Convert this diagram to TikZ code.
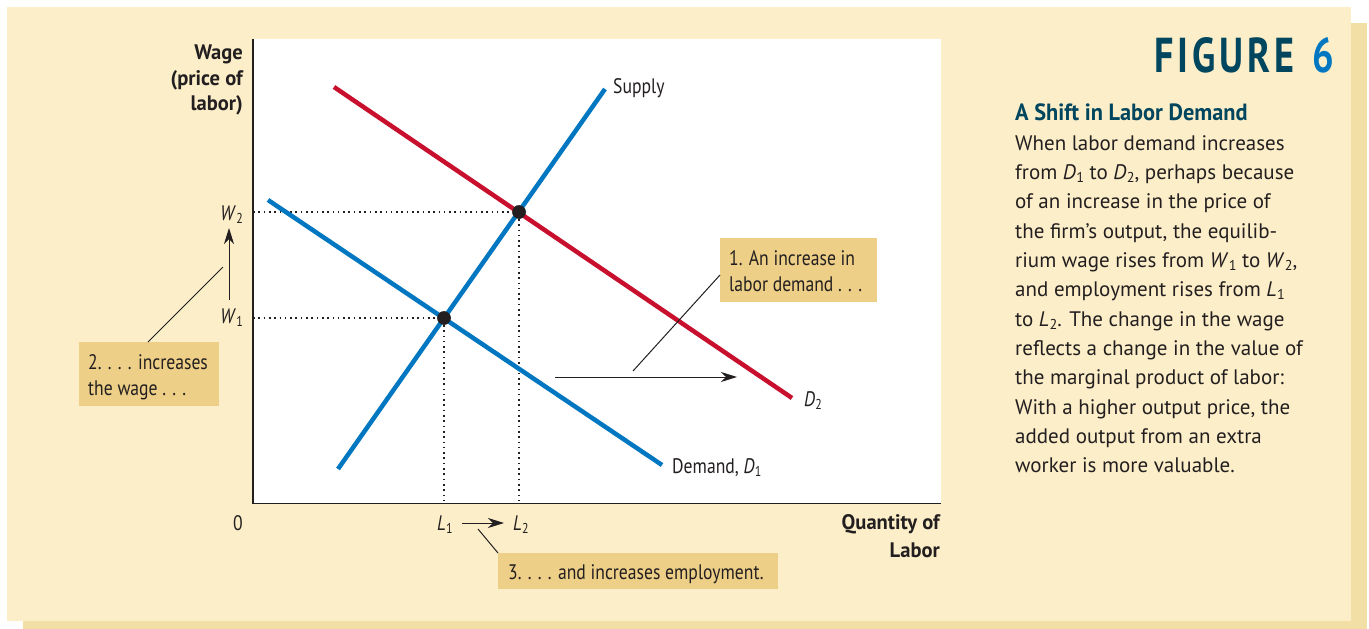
\documentclass[tikz,border=0pt]{standalone}
\usepackage{fontspec}
\setmainfont{PT Sans}
\newfontfamily\condf[FakeStretch=0.84]{PT Sans}
\newfontfamily\condbf[FakeStretch=0.98,BoldFont={* Bold}]{PT Sans}
\newfontfamily\headf[FakeStretch=0.95,BoldFont={* Bold}]{PT Sans}
\newfontfamily\figf[FakeStretch=0.78,LetterSpace=8]{PT Sans}
\usetikzlibrary{arrows.meta}
\definecolor{panel}{HTML}{FCEEC8}
\definecolor{shadow}{HTML}{F2DFA6}
\definecolor{boxc}{HTML}{EDCF87}
\definecolor{bluec}{HTML}{0077C0}
\definecolor{redc}{HTML}{C8102E}
\definecolor{ink}{HTML}{231F20}
\definecolor{teal}{HTML}{00465F}
\newcommand\vsub[2]{\textit{#1}\kern0.3pt\raisebox{-0.3ex}{\scalebox{0.68}{#2}}}
\tikzset{
  lbl/.style={inner sep=0pt, text=ink, font=\condf\fontsize{21}{26}\selectfont},
  axl/.style={inner sep=0pt, text=ink, font=\condbf\bfseries\fontsize{21}{26}\selectfont},
  body/.style={inner sep=0pt, anchor=base west, text=ink, font=\fontsize{21}{29}\selectfont},
  callout/.style={fill=boxc, draw=none},
  curveb/.style={bluec, line width=4.5pt},
  curver/.style={redc, line width=4.5pt},
  guide/.style={ink, line width=1.6pt, dash pattern=on 1.6pt off 3.7pt},
  thin/.style={ink, line width=1pt},
  arr/.style={ink, line width=1pt, -{Stealth[length=16pt 0,width=10pt 0,inset=5pt]}},
  dot/.style={circle, fill=ink, inner sep=0pt, minimum size=13.5pt}
}
\begin{document}
\begin{tikzpicture}[x=1pt,y=-1pt]
\useasboundingbox (0,0) rectangle (1369,629);
\fill[white] (0,0) rectangle (1369,629);
\fill[shadow] (23,23) rectangle (1367,629);
\fill[panel] (7,7) rectangle (1351,621);
\fill[white] (253,39) rectangle (941,503);
% axes
\draw[ink, line width=1.2pt] (253,39) -- (253,503.5) -- (941,503.5);
% curves
\coordinate (s0) at (338,469); \coordinate (s1) at (605,89);
\coordinate (d10) at (268,200); \coordinate (d11) at (662,465);
\coordinate (d20) at (334,87); \coordinate (d21) at (792,398);
\coordinate (ax1) at (253,318); \coordinate (ax2) at (253,212);
\coordinate (bx1) at (444,503); \coordinate (bx2) at (519,503);
\node[dot] (e1) at (444,318) {};
\node[dot] (e2) at (519,212) {};
\draw[guide] (ax1) -- (e1) -- (bx1);
\draw[guide] (ax2) -- (e2) -- (bx2);
\draw[curveb] (s0) -- (s1);
\draw[curveb] (d10) -- (d11);
\draw[curver] (d20) -- (d21);
\node[dot] at (e1) {};
\node[dot] at (e2) {};
% curve labels
\node[lbl, anchor=base west] (supl) at (613,93) {Supply};
\node[lbl, anchor=base west] (d1l) at (672,473) {Demand, \vsub{D}{1}};
\node[lbl, anchor=base west] (d2l) at (804,406) {\vsub{D}{2}};
% axis labels
\node[axl, anchor=base east] (wage1) at (243,59) {Wage};
\node[axl, anchor=base east] (wage2) at (243,85) {(price of};
\node[axl, anchor=base east] (wage3) at (243,110) {labor)};
\node[axl, anchor=base east] (q1) at (940,529) {Quantity of};
\node[axl, anchor=base east] (q2) at (940,557) {Labor};
\node[lbl, anchor=base east] (zero) at (243,530) {0};
\node[lbl, anchor=base east] (w2) at (243,220) {\vsub{W}{2}};
\node[lbl, anchor=base east] (w1) at (243,323) {\vsub{W}{1}};
\node[lbl, anchor=base] (l1) at (445,530) {\vsub{L}{1}};
\node[lbl, anchor=base] (l2) at (521,530) {\vsub{L}{2}};
% arrows
\coordinate (wa0) at (229,300); \coordinate (wa1) at (229,228);
\draw[arr] (wa0) -- (wa1);
\coordinate (la0) at (462,523); \coordinate (la1) at (504,523);
\draw[arr] (la0) -- (la1);
\coordinate (da0) at (555,377); \coordinate (da1) at (737,377);
\draw[arr] (da0) -- (da1);
% callouts
\node[callout, minimum width=157pt, minimum height=64pt, anchor=north west] (c1) at (720,238) {};
\node[lbl, anchor=base west] (c1a) at (729,265) {1. An increase in};
\node[lbl, anchor=base west] (c1b) at (729,291) {labor demand . . .};
\node[callout, minimum width=140pt, minimum height=64pt, anchor=north west] (c2) at (79,342) {};
\node[lbl, anchor=base west] (c2a) at (88,369) {2. . . . increases};
\node[lbl, anchor=base west] (c2b) at (88,395) {the wage . . .};
\node[callout, minimum width=280pt, minimum height=36pt, anchor=north west] (c3) at (498,553) {};
\node[lbl, anchor=base west] (c3a) at (508,579) {3. . . . and increases employment.};
% leader lines
\coordinate (k1) at (633,371);
\draw[thin] (c1.west |- 0,275) -- (k1);
\coordinate (k2) at (223,267);
\path (c2.north west) ++(69,0) coordinate (k2b);
\draw[thin] (k2b) -- (k2);
\coordinate (k3) at (478,529);
\draw[thin] (c3.north west) -- (k3);
% right text
\node[inner sep=0pt, anchor=base east, font=\figf\bfseries\fontsize{49}{49}\selectfont] (fig) at (1334,72) {\textcolor{teal}{FIGURE}\hspace{4pt} \textcolor{bluec}{6}};
\node[inner sep=0pt, anchor=base west, text=teal, font=\headf\bfseries\fontsize{23.5}{26}\selectfont] (head) at (1015,120) {A Shift in Labor Demand};
\node[body] (t1) at (1015,150) {When labor demand increases};
\node[body] (t2) at (1015,179.3) {from \vsub{D}{1} to \vsub{D}{2}, perhaps because};
\node[body] (t3) at (1015,208.6) {of an increase in the price of};
\node[body] (t4) at (1015,238) {the firm’s output, the equilib-};
\node[body] (t5) at (1015,267.3) {rium wage rises from \vsub{W}{1} to \vsub{W}{2},};
\node[body] (t6) at (1015,296.6) {and employment rises from \vsub{L}{1}};
\node[body] (t7) at (1015,326) {to \vsub{L}{2}. The change in the wage};
\node[body] (t8) at (1015,355.3) {reflects a change in the value of};
\node[body] (t9) at (1015,384.6) {the marginal product of labor:};
\node[body] (t10) at (1015,414) {With a higher output price, the};
\node[body] (t11) at (1015,443.3) {added output from an extra};
\node[body] (t12) at (1015,472.6) {worker is more valuable.};
\end{tikzpicture}
\end{document}
